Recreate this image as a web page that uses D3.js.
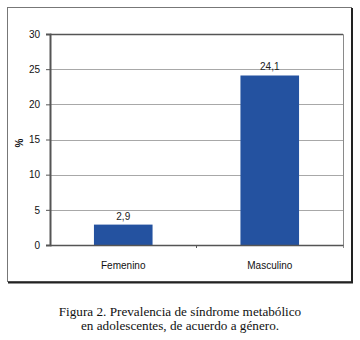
<!DOCTYPE html>
<html>
<head>
<meta charset="utf-8">
<script src="https://cdn.jsdelivr.net/npm/d3@7"></script>
<style>
  body { margin: 0; background: #fff; }
</style>
</head>
<body>
<div id="root"></div>
<script>
var categories = ['Femenino', 'Masculino'];
var values = [2.9, 24.1];
var valueLabels = ['2,9', '24,1'];
var yTicks = [0, 5, 10, 15, 20, 25, 30];
var captionLines = [
  'Figura 2. Prevalencia de síndrome metabólico',
  'en adolescentes, de acuerdo a género.'
];

var svg = d3.select('#root')
  .append('svg')
    .attr('width', 360)
    .attr('height', 340);

// outer frame with a little shadow on right / bottom
svg.append('rect')
  .attr('x', 7.5).attr('y', 7.5)
  .attr('width', 344).attr('height', 274)
  .attr('fill', '#fff')
  .attr('stroke', '#777')
  .attr('stroke-width', 1);
svg.append('path')
  .attr('d', 'M352,8V282.5H8')
  .attr('fill', 'none')
  .attr('stroke', '#222')
  .attr('stroke-width', 2);

var plotLeft = 50, plotRight = 343, plotTop = 34, plotBottom = 245;

var y = d3.scaleLinear()
  .domain([0, 30])
  .range([plotBottom, plotTop]);

var x = d3.scaleBand()
  .domain(categories)
  .range([plotLeft, plotRight])
  .paddingInner(0.6)
  .paddingOuter(0.3);

// gridlines
svg.append('g')
  .selectAll('line')
  .data(yTicks.slice(1, -1))
  .enter()
  .append('line')
    .attr('x1', plotLeft).attr('x2', plotRight)
    .attr('y1', d => Math.round(y(d)) + 0.5)
    .attr('y2', d => Math.round(y(d)) + 0.5)
    .attr('stroke', '#a8a8a8');

// plot box: top and right
svg.append('path')
  .attr('d', 'M' + plotLeft + ',' + (plotTop + 0.5) + 'H' + (plotRight + 0.5) + 'V' + (plotBottom + 3))
  .attr('fill', 'none')
  .attr('stroke', '#8a8a8a')
  .attr('stroke-width', 1);
svg.append('line')
  .attr('x1', plotLeft).attr('x2', plotRight)
  .attr('y1', plotTop + 0.5).attr('y2', plotTop + 0.5)
  .attr('stroke', '#555')
  .attr('stroke-width', 1.5);

// bars
svg.selectAll('rect.bar')
  .data(values)
  .enter()
  .append('rect')
    .attr('class', 'bar')
    .attr('x', (d, i) => x(categories[i]))
    .attr('y', d => y(d))
    .attr('width', x.bandwidth())
    .attr('height', d => y(0) - y(d))
    .attr('fill', '#2452a0');

// value labels
svg.selectAll('text.val')
  .data(values)
  .enter()
  .append('text')
    .attr('class', 'val')
    .attr('x', (d, i) => x(categories[i]) + x.bandwidth() / 2)
    .attr('y', d => y(d) - 5)
    .attr('text-anchor', 'middle')
    .attr('font-family', 'Liberation Sans, Arial, sans-serif')
    .attr('font-size', 10)
    .attr('fill', '#222')
    .text((d, i) => valueLabels[i]);

// y axis
var yAxis = svg.append('g')
  .attr('transform', 'translate(' + plotLeft + ',0)')
  .call(d3.axisLeft(y).tickValues(yTicks).tickSize(4).tickPadding(6));
yAxis.select('.domain').attr('stroke', '#555').attr('stroke-width', 2);
yAxis.selectAll('.tick line').attr('stroke', '#555');
yAxis.selectAll('text')
  .attr('font-family', 'Liberation Sans, Arial, sans-serif')
  .attr('font-size', 10)
  .attr('fill', '#111');

// x axis
var xAxis = svg.append('g')
  .attr('transform', 'translate(0,' + plotBottom + ')')
  .call(d3.axisBottom(x).tickSize(0).tickPadding(17));
xAxis.select('.domain').attr('stroke', '#555').attr('stroke-width', 1.5);
xAxis.selectAll('text')
  .attr('font-family', 'Liberation Sans, Arial, sans-serif')
  .attr('font-size', 10)
  .attr('fill', '#111');
// category divider ticks
xAxis.selectAll('line.div')
  .data(categories.slice(1))
  .enter()
  .append('line')
    .attr('class', 'div')
    .attr('x1', d => x(d) - x.step() * x.paddingInner() / 2)
    .attr('x2', d => x(d) - x.step() * x.paddingInner() / 2)
    .attr('y1', 0).attr('y2', 3)
    .attr('stroke', '#555');

// y title
svg.append('text')
  .attr('transform', 'translate(23,143) rotate(-90)')
  .attr('text-anchor', 'middle')
  .attr('font-family', 'Liberation Sans, Arial, sans-serif')
  .attr('font-size', 10)
  .attr('font-weight', 'bold')
  .attr('fill', '#111')
  .text('%');

// caption
svg.selectAll('text.cap')
  .data(captionLines)
  .enter()
  .append('text')
    .attr('class', 'cap')
    .attr('x', 180)
    .attr('y', (d, i) => 316 + i * 13.5)
    .attr('text-anchor', 'middle')
    .attr('font-family', 'Liberation Serif, Times New Roman, serif')
    .attr('font-size', 13.2)
    .attr('fill', '#111')
    .text(d => d);
</script>
</body>
</html>
